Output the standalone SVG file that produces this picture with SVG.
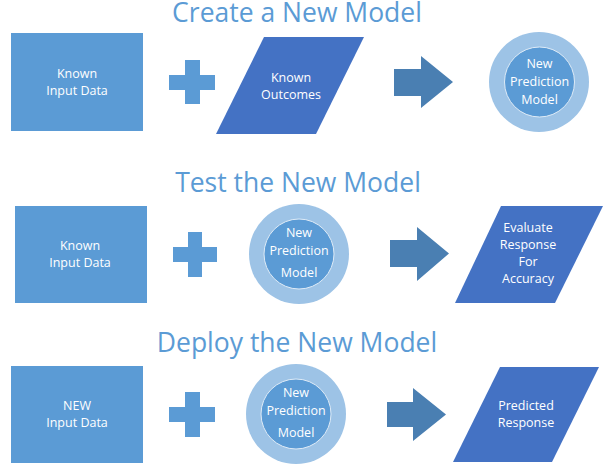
<svg xmlns="http://www.w3.org/2000/svg" width="608" height="473" viewBox="0 0 608 473">
<style>
.title{font-family:"Open Sans","Liberation Sans",sans-serif;font-size:26.5px;fill:#5b9bd5;text-anchor:middle}
.lbl{font-family:"Open Sans","Liberation Sans",sans-serif;font-size:12.5px;fill:#ffffff;text-anchor:middle}
.box{fill:#5b9bd5}
.para{fill:#4472c4}
.outer{fill:#9dc3e6}
.inner{fill:#5b9bd5;stroke:#deebf7;stroke-width:1}
.plus{fill:#5b9bd5}
.arrow{fill:#4a7fb2}
</style>
<rect width="608" height="473" fill="#ffffff"/>
<g id="titles">
<text class="title" x="297" y="22">Create a New Model</text>
<text class="title" x="298" y="192">Test the New Model</text>
<text class="title" x="297" y="352">Deploy the New Model</text>
</g>
<g id="connectors">
<path class="plus" d="M185,60H200V75H215V90H200V104H185V90H169V75H185Z"/>
<path class="arrow" d="M394,69H421V56L453,82L421,108V96H394Z"/>
<path class="plus" d="M188,232H202V247H217V262H202V277H188V262H173V247H188Z"/>
<path class="arrow" d="M390,240H417V227L449,253.5L417,281V267H390Z"/>
<path class="plus" d="M185,392H200V407H215V422H200V437H185V422H169V407H185Z"/>
<path class="arrow" d="M387,402H413V388L446,414.5L413,441V427H387Z"/>
</g>
<g id="known-input-1">
<rect class="box" x="11" y="33" width="132" height="98"/>
<text class="lbl" x="77" y="78">Known</text>
<text class="lbl" x="77" y="95">Input Data</text>
</g>
<g id="known-outcomes">
<polygon class="para" points="264,37 364,37 316,134 216,134"/>
<text class="lbl" x="291" y="82">Known</text>
<text class="lbl" x="291" y="99">Outcomes</text>
</g>
<g id="model-1">
<circle class="outer" cx="539" cy="82" r="50"/>
<circle class="inner" cx="539.5" cy="82" r="35"/>
<text class="lbl" x="539.5" y="68">New</text>
<text class="lbl" x="539.5" y="86">Prediction</text>
<text class="lbl" x="539.5" y="104">Model</text>
</g>
<g id="known-input-2">
<rect class="box" x="15" y="206" width="132" height="97"/>
<text class="lbl" x="80" y="250">Known</text>
<text class="lbl" x="80" y="267">Input Data</text>
</g>
<g id="model-2">
<circle class="outer" cx="299" cy="254" r="50"/>
<circle class="inner" cx="299" cy="254" r="35"/>
<text class="lbl" x="299" y="237">New</text>
<text class="lbl" x="299" y="255">Prediction</text>
<text class="lbl" x="299" y="277">Model</text>
</g>
<g id="evaluate">
<polygon class="para" points="501,206 603,206 555,303 455,303"/>
<text class="lbl" x="528" y="232">Evaluate</text>
<text class="lbl" x="528" y="249">Response</text>
<text class="lbl" x="528" y="266">For</text>
<text class="lbl" x="528" y="283">Accuracy</text>
</g>
<g id="new-input">
<rect class="box" x="11" y="366" width="132" height="97"/>
<text class="lbl" x="77" y="410">NEW</text>
<text class="lbl" x="77" y="427">Input Data</text>
</g>
<g id="model-3">
<circle class="outer" cx="296" cy="414" r="50"/>
<circle class="inner" cx="296" cy="414" r="35"/>
<text class="lbl" x="296" y="397">New</text>
<text class="lbl" x="296" y="415">Prediction</text>
<text class="lbl" x="296" y="437">Model</text>
</g>
<g id="predicted">
<polygon class="para" points="500,367 599,367 552,462 453,462"/>
<text class="lbl" x="526" y="410">Predicted</text>
<text class="lbl" x="526" y="427">Response</text>
</g>
</svg>
